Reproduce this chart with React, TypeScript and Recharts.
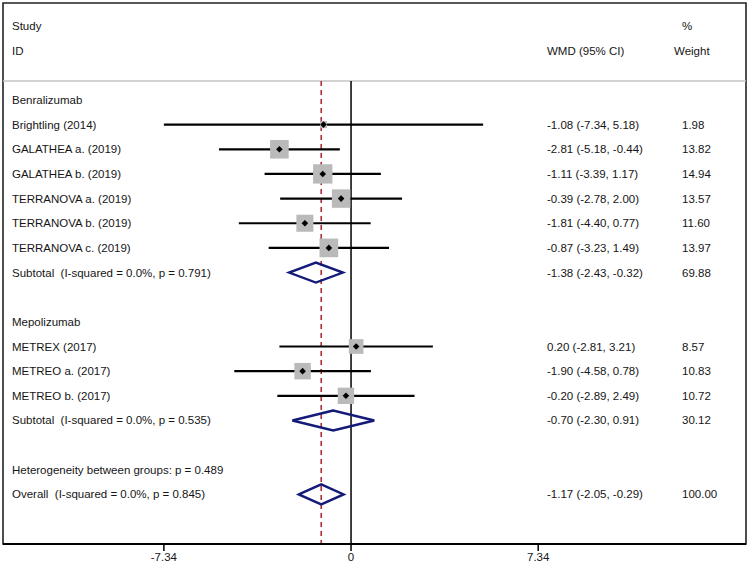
import React from 'react';
import {
  ComposedChart, XAxis, YAxis, Scatter, Line, ReferenceLine, ReferenceArea,
} from 'recharts';

// ---------- data ----------
const groupNames = ['Benralizumab', 'Mepolizumab'];
const studyNames = [
  'Brightling (2014)', 'GALATHEA a. (2019)', 'GALATHEA b. (2019)', 'TERRANOVA a. (2019)',
  'TERRANOVA b. (2019)', 'TERRANOVA c. (2019)', 'METREX (2017)', 'METREO a. (2017)', 'METREO b. (2017)',
];
const studyGroup = [0, 0, 0, 0, 0, 0, 1, 1, 1];
const studyEst = [-1.08, -2.81, -1.11, -0.39, -1.81, -0.87, 0.2, -1.9, -0.2];
const studyLo = [-7.34, -5.18, -3.39, -2.78, -4.4, -3.23, -2.81, -4.58, -2.89];
const studyHi = [5.18, -0.44, 1.17, 2.0, 0.77, 1.49, 3.21, 0.78, 2.49];
const studyWeight = [1.98, 13.82, 14.94, 13.57, 11.6, 13.97, 8.57, 10.83, 10.72];

const subtotalLabels = [
  'Subtotal  (I-squared = 0.0%, p = 0.791)',
  'Subtotal  (I-squared = 0.0%, p = 0.535)',
];
const subtotalEst = [-1.38, -0.7];
const subtotalLo = [-2.43, -2.3];
const subtotalHi = [-0.32, 0.91];
const subtotalWeight = [69.88, 30.12];

const heterogeneityLabel = 'Heterogeneity between groups: p = 0.489';
const overallLabel = 'Overall  (I-squared = 0.0%, p = 0.845)';
const overallEst = -1.17;
const overallLo = -2.05;
const overallHi = -0.29;
const overallWeight = 100.0;

const xTicks = [-7.34, 0, 7.34];

// ---------- layout constants ----------
const X_MIN = -13.65;
const X_MAX = 15.49;
const Y_MIN = -0.933;
const Y_MAX = 21.01;
const HEADER_RULE = 2.23;
const DIAMOND_HALF = 0.406;
const SQUARE_K = 5.0;
const FONT = 'Arial, "Liberation Sans", sans-serif';
const FS = 11.5;
const COL_LEFT = 12;
const COL_CI = 547;
const COL_W = 682;

const fmt = (v: number) => v.toFixed(2);
const ciText = (e: number, l: number, h: number) => `${fmt(e)} (${fmt(l)}, ${fmt(h)})`;

// ---------- build rows ----------
type TextRow = { x: number; y: number; left?: string; mid?: string; right?: string; rightX?: number };
const textRows: TextRow[] = [];
const studyPts: any[] = [];
const diamonds: { lo: number; est: number; hi: number; row: number }[] = [];

textRows.push({ x: 0, y: 0, left: 'Study', right: '%', rightX: 682 });
textRows.push({ x: 0, y: 1, left: 'ID', mid: 'WMD (95% CI)', right: 'Weight', rightX: 674 });
let row = 3;
groupNames.forEach((g, gi) => {
  textRows.push({ x: 0, y: row, left: g });
  row++;
  studyNames.forEach((name, i) => {
    if (studyGroup[i] !== gi) return;
    textRows.push({
      x: 0, y: row, left: name,
      mid: ciText(studyEst[i], studyLo[i], studyHi[i]), right: fmt(studyWeight[i]),
    });
    studyPts.push({ x: studyEst[i], y: row, lo: studyLo[i], hi: studyHi[i], w: studyWeight[i] });
    row++;
  });
  textRows.push({
    x: 0, y: row, left: subtotalLabels[gi],
    mid: ciText(subtotalEst[gi], subtotalLo[gi], subtotalHi[gi]), right: fmt(subtotalWeight[gi]),
  });
  diamonds.push({ lo: subtotalLo[gi], est: subtotalEst[gi], hi: subtotalHi[gi], row });
  row += 2;
});
textRows.push({ x: 0, y: row, left: heterogeneityLabel });
row++;
textRows.push({
  x: 0, y: row, left: overallLabel,
  mid: ciText(overallEst, overallLo, overallHi), right: fmt(overallWeight),
});
diamonds.push({ lo: overallLo, est: overallEst, hi: overallHi, row });

const diamondData = diamonds.map((d) => [
  { x: d.lo, y: d.row },
  { x: d.est, y: d.row - DIAMOND_HALF },
  { x: d.hi, y: d.row },
  { x: d.est, y: d.row + DIAMOND_HALF },
  { x: d.lo, y: d.row },
  { x: d.est, y: d.row - DIAMOND_HALF },
]);

const ciData = studyPts.map((p) => [
  { x: p.lo, y: p.y },
  { x: p.hi, y: p.y },
]);

const textStyle: any = { fontFamily: FONT, fontSize: FS, fill: '#151515', whiteSpace: 'pre' };

const TextShape = (props: any) => {
  const { cy, payload } = props;
  return (
    <g>
      {payload.left && (
        <text x={COL_LEFT} y={cy} dominantBaseline="central" style={textStyle}>{payload.left}</text>
      )}
      {payload.mid && (
        <text x={COL_CI} y={cy} dominantBaseline="central" style={textStyle}>{payload.mid}</text>
      )}
      {payload.right && (
        <text x={payload.rightX ?? COL_W} y={cy} dominantBaseline="central" style={textStyle}>{payload.right}</text>
      )}
    </g>
  );
};

const SquareShape = (props: any) => {
  const { cx, cy, payload } = props;
  const s = SQUARE_K * Math.sqrt(payload.w);
  return <rect x={cx - s / 2} y={cy - s / 2} width={s} height={s} fill="#bababa" />;
};

const DotShape = (props: any) => {
  const { cx, cy } = props;
  const r = 3.3;
  return <polygon points={`${cx - r},${cy} ${cx},${cy - r} ${cx + r},${cy} ${cx},${cy + r}`} fill="#000" />;
};

export default function App() {
  return (
    <div style={{ position: 'absolute', left: 0, top: 0, background: '#fff' }}>
      <ComposedChart width={750} height={568} margin={{ top: 3, right: 4, bottom: 0, left: 3 }}>
        <XAxis
          type="number"
          dataKey="x"
          domain={[X_MIN, X_MAX]}
          ticks={xTicks}
          allowDataOverflow
          height={24}
          tickSize={7}
          axisLine={{ stroke: '#000', strokeWidth: 2 }}
          tickLine={{ stroke: '#000', strokeWidth: 1.5 }}
          tick={{ fontSize: FS, fill: '#151515', fontFamily: FONT }}
          tickFormatter={(v: number) => (v === 0 ? '0' : v.toFixed(2))}
        />
        <YAxis type="number" dataKey="y" domain={[Y_MIN, Y_MAX]} reversed hide allowDataOverflow />
        <ReferenceArea
          x1={X_MIN} x2={X_MAX} y1={Y_MIN} y2={Y_MAX}
          fill="none" fillOpacity={0} stroke="#222" strokeWidth={1.6} ifOverflow="visible"
        />
        <ReferenceLine y={HEADER_RULE} stroke="#c4c4c4" strokeWidth={1.5} />
        <ReferenceLine
          segment={[{ x: 0, y: HEADER_RULE }, { x: 0, y: Y_MAX }]}
          stroke="#000" strokeWidth={1.5}
        />
        <ReferenceLine
          segment={[{ x: overallEst, y: HEADER_RULE }, { x: overallEst, y: Y_MAX }]}
          stroke="#b0303a" strokeWidth={1.6} strokeDasharray="5 4"
        />
        <Scatter data={textRows} shape={<TextShape />} isAnimationActive={false} />
        <Scatter data={studyPts} shape={<SquareShape />} isAnimationActive={false} />
        {ciData.map((pts, i) => (
          <Line
            key={`ci${i}`}
            data={pts}
            dataKey="y"
            type="linear"
            dot={false}
            activeDot={false}
            stroke="#000"
            strokeWidth={2.2}
            isAnimationActive={false}
          />
        ))}
        {diamondData.map((pts, i) => (
          <Line
            key={`d${i}`}
            data={pts}
            dataKey="y"
            type="linear"
            dot={false}
            activeDot={false}
            stroke="#141a78"
            strokeWidth={2.4}
            strokeLinejoin="miter"
            fill="none"
            isAnimationActive={false}
          />
        ))}
        <Scatter data={studyPts} shape={<DotShape />} isAnimationActive={false} />
      </ComposedChart>
    </div>
  );
}
